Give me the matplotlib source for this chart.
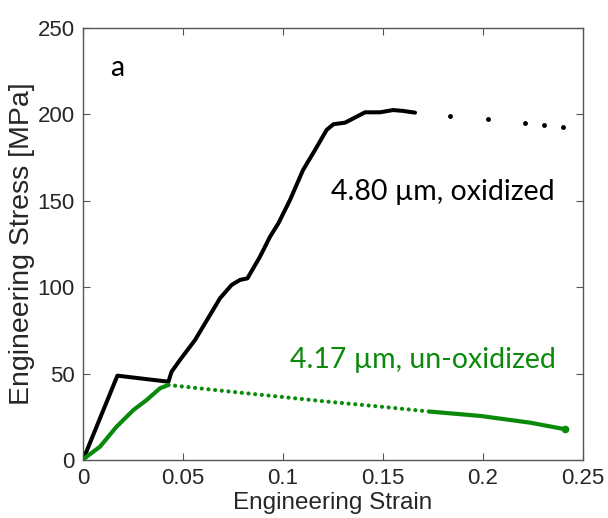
import numpy as np
import matplotlib
matplotlib.use('Agg')
import matplotlib.pyplot as plt

# oxidized pillar, 4.80 um
ox_strain = [0, 0.0172, 0.0427, 0.0443, 0.0485, 0.056, 0.065, 0.0685, 0.0743, 0.0785,
             0.0822, 0.0885, 0.0935, 0.0977, 0.1035, 0.110, 0.116, 0.1218, 0.1252,
             0.131, 0.1352, 0.141, 0.1485, 0.155, 0.160, 0.166]
ox_stress = [0, 48.8, 45.3, 51.1, 57.9, 69.4, 86.8, 93.6, 101.3, 104.2,
             105.1, 117.7, 129.2, 137.0, 150.5, 167.8, 179.4, 191.0, 194.3,
             195.2, 197.7, 201.2, 201.2, 202.5, 202.0, 201.0]
# sparse points after the drop
ox_tail_strain = [0.1835, 0.2023, 0.221, 0.2305, 0.2398]
ox_tail_stress = [199.0, 197.2, 194.9, 193.9, 192.5]

# un-oxidized pillar, 4.17 um
un_strain = [0, 0.0018, 0.0085, 0.0168, 0.0252, 0.0318, 0.0385, 0.0427,
             0.070, 0.0985, 0.120, 0.1485, 0.1735,
             0.1985, 0.2235, 0.241]
un_stress = [0, 1.9, 7.7, 19.3, 28.9, 34.7, 41.5, 43.4,
             40.0, 36.6, 34.0, 30.9, 28.0,
             25.5, 21.6, 17.8]

txt_col = '#262626'
green = '#0a8a0a'

plt.rcParams['font.family'] = 'Liberation Sans'

fig = plt.figure(figsize=(6.08, 5.18), dpi=100)
ax = fig.add_axes([0.1365, 0.112, 0.8225, 0.834])

ax.plot(ox_strain, ox_stress, color='k', lw=2.9, solid_capstyle='round', solid_joinstyle='round')
ax.plot(ox_tail_strain, ox_tail_stress, 'ko', ms=3.5, mew=0)

# loading part, sparse middle part, dense end part
ax.plot(un_strain[:8], un_stress[:8], color=green, lw=3.0, solid_capstyle='round')
ax.plot(un_strain[7:13], un_stress[7:13], color=green, lw=3.0,
        linestyle=(0, (0.01, 1.6)), dash_capstyle='round')
ax.plot(un_strain[12:], un_stress[12:], color=green, lw=3.0, solid_capstyle='round')
ax.plot(un_strain[-1], un_stress[-1], 'o', color=green, ms=5.5, mew=0)

ax.set_xlim(0, 0.25)
ax.set_ylim(0, 250)
ax.set_xticks([0, 0.05, 0.1, 0.15, 0.2, 0.25])
ax.set_xticklabels(['0', '0.05', '0.1', '0.15', '0.2', '0.25'])
ax.set_yticks([0, 50, 100, 150, 200, 250])
ax.tick_params(direction='in', top=True, right=True, length=5, width=0.8,
               colors='#555555', labelcolor=txt_col, labelsize=16, pad=6)
for s in ax.spines.values():
    s.set_color('#555555')
    s.set_linewidth(1.0)

ax.set_xlabel('Engineering Strain', fontsize=17.5, color=txt_col, labelpad=2)
ax.set_ylabel('Engineering Stress [MPa]', fontsize=20.5, color=txt_col, labelpad=2)

ax.text(0.0135, 227, 'a', fontsize=20.5, family='Lato', va='center', ha='left', color='k')
ax.text(0.124, 155, '4.80 µm, oxidized', fontsize=20.5, family='Lato', va='center', ha='left', color='k')
ax.text(0.1035, 58, '4.17 µm, un-oxidized', fontsize=20.5, family='Lato', va='center', ha='left', color=green)

fig.savefig('out.png', dpi=100)
